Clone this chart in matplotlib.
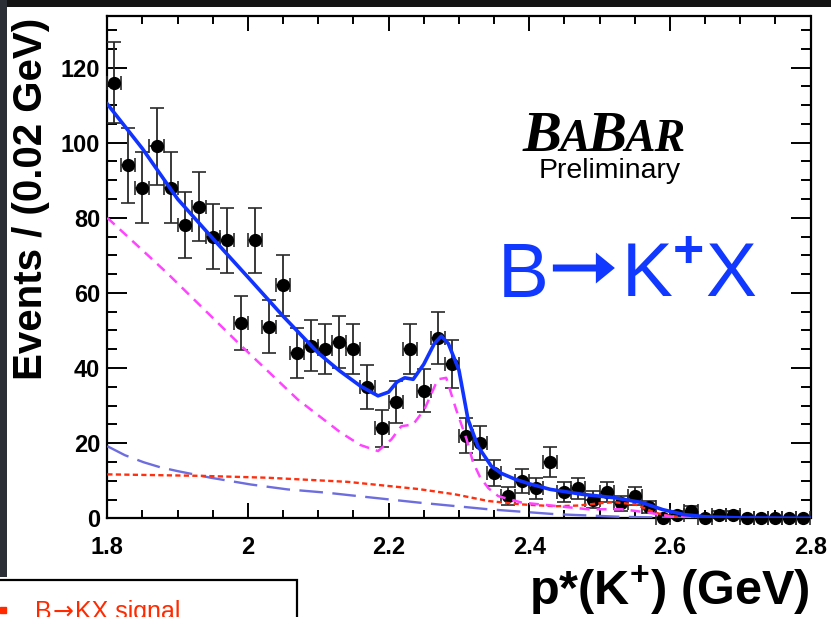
"""BaBar preliminary: p*(K+) spectrum for B -> K+ X with fit components."""

import numpy as np
import matplotlib.pyplot as plt
from matplotlib.patches import Rectangle, FancyArrow
from matplotlib.lines import Line2D
from matplotlib.transforms import IdentityTransform
from matplotlib.ticker import MultipleLocator, FuncFormatter

plt.rcParams['font.family'] = ['Liberation Sans', 'DejaVu Sans']
plt.rcParams['font.weight'] = 'bold'
plt.rcParams['mathtext.fontset'] = 'custom'
plt.rcParams['mathtext.rm'] = 'Liberation Sans'
plt.rcParams['mathtext.bf'] = 'Liberation Sans:bold'

# histogram: 50 bins of 0.02 GeV between 1.8 and 2.8
bin_edges = np.linspace(1.8, 2.8, 51)
counts = [116, 94, 88, 99, 88, 78, 83, 75, 74, 52,
          74, 51, 62, 44, 46, 45, 47, 45, 35, 24,
          31, 45, 34, 48, 41, 22, 20, 12, 6, 10,
          8, 15, 7, 8, 5, 7, 4, 6, 3, 0,
          1, 2, 0, 1, 1, 0, 0, 0, 0, 0]
errors = [10.8, 10.0, 9.4, 10.2, 9.4, 8.8, 9.1, 8.7, 8.6, 7.2,
          8.6, 7.1, 8.2, 6.6, 6.8, 6.7, 6.9, 6.7, 5.9, 4.9,
          5.6, 6.7, 5.8, 6.9, 6.4, 4.7, 4.5, 3.5, 2.4, 3.2,
          2.8, 3.9, 2.6, 2.8, 2.2, 2.6, 2.0, 2.4, 1.7, 0.0,
          1.0, 1.4, 0.0, 1.0, 1.0, 0.0, 0.0, 0.0, 0.0, 0.0]

# total fit (solid blue)
total_x = [1.80, 1.85, 1.90, 1.95, 2.00, 2.05, 2.10, 2.13, 2.16, 2.185,
           2.20, 2.212, 2.223, 2.235, 2.25, 2.265, 2.275, 2.285, 2.30, 2.313,
           2.327, 2.346, 2.36, 2.38, 2.40, 2.43, 2.475, 2.52, 2.56, 2.59,
           2.62, 2.65, 2.70, 2.80]
total_y = [110.3, 98.4, 85.0, 74.5, 64.2, 53.8, 44.0, 39.3, 35.2, 32.6,
           33.6, 36.3, 37.4, 37.0, 41.0, 46.5, 48.5, 46.5, 39.5, 26.3,
           19.2, 13.9, 12.0, 10.4, 9.2, 7.7, 6.4, 5.5, 4.2, 2.3,
           1.0, 0.4, 0.1, 0.0]

# peaking component (magenta dashed)
peak_x = [1.80, 1.885, 1.99, 2.071, 2.132, 2.16, 2.185, 2.204, 2.218, 2.235,
          2.251, 2.27, 2.282, 2.296, 2.311, 2.32, 2.33, 2.342, 2.356, 2.389,
          2.437, 2.484, 2.532, 2.57, 2.60, 2.65, 2.80]
peak_y = [80.0, 65.3, 46.0, 31.6, 22.8, 19.5, 17.9, 21.0, 24.5, 25.0,
          29.0, 37.0, 37.4, 29.0, 21.0, 15.0, 11.0, 8.0, 5.9, 4.2,
          3.3, 2.4, 2.4, 1.5, 0.5, 0.1, 0.0]

# B -> K X signal (red short dashes)
signal_x = [1.80, 1.933, 2.028, 2.142, 2.242, 2.294, 2.342, 2.389, 2.437, 2.47,
            2.50, 2.52, 2.551, 2.579, 2.60, 2.63, 2.80]
signal_y = [11.7, 11.3, 10.8, 9.7, 7.8, 6.4, 4.6, 3.7, 3.2, 3.4,
            4.0, 4.3, 3.7, 1.5, 0.6, 0.1, 0.0]

# continuum (lavender long dashes)
cont_x = [1.80, 1.825, 1.852, 1.875, 1.899, 1.947, 2.004, 2.056, 2.113, 2.147,
          2.242, 2.342, 2.437, 2.53, 2.62, 2.80]
cont_y = [19.2, 16.8, 14.9, 13.6, 12.6, 10.8, 9.0, 7.7, 6.8, 6.1,
          4.2, 2.4, 1.1, 0.4, 0.1, 0.0]

W, H = 831, 617
fig = plt.figure(figsize=(W / 100, H / 100), dpi=100)
fig.patch.set_facecolor('white')

# slide background strips around the picture
fig.add_artist(Rectangle((0, 1 - 7 / H), 1, 7 / H, transform=fig.transFigure,
                         facecolor='#141414', edgecolor='none', zorder=0))
fig.add_artist(Rectangle((0, 40 / H), 7 / W, 1, transform=fig.transFigure,
                         facecolor='#2c2f36', edgecolor='none', zorder=0))

left, right, top, bottom = 107.3, 810.5, 15.7, 518.3
ax = fig.add_axes([left / W, (H - bottom) / H, (right - left) / W, (bottom - top) / H])
ax.set_xlim(1.8, 2.8)
ax.set_ylim(0, 133.8)

centers = 0.5 * (bin_edges[:-1] + bin_edges[1:])
half_width = 0.5 * (bin_edges[1] - bin_edges[0])
eb = ax.errorbar(centers, counts, yerr=errors, xerr=half_width, fmt='o',
                 color='black', ms=8.5, ecolor='#2a2a2a', elinewidth=1.3,
                 capsize=5, capthick=1.2, zorder=3)
for art in eb.get_children():
    art.set_clip_on(False)

ax.plot(cont_x, cont_y, color='#6d6ddf', lw=1.7, dashes=(10, 4), zorder=4)
ax.plot(signal_x, signal_y, color='#ff3010', lw=1.7, dashes=(2.2, 1.4), zorder=4)
ax.plot(peak_x, peak_y, color='#ff44ff', lw=1.8, dashes=(4, 2.8), zorder=4)
ax.plot(total_x, total_y, color='#1133ff', lw=2.6, zorder=5)

ax.xaxis.set_major_locator(MultipleLocator(0.2))
ax.xaxis.set_minor_locator(MultipleLocator(0.05))
ax.yaxis.set_major_locator(MultipleLocator(20))
ax.yaxis.set_minor_locator(MultipleLocator(5))
ax.xaxis.set_major_formatter(FuncFormatter(lambda v, p: f"{v:g}"))
ax.yaxis.set_major_formatter(FuncFormatter(lambda v, p: f"{v:g}"))
ax.tick_params(which='both', direction='in', top=True, right=True, width=1.4,
               labelsize=17)
ax.tick_params(axis='x', which='major', length=11, pad=13)
ax.tick_params(axis='x', which='minor', length=5.5)
ax.tick_params(axis='y', which='major', length=14.5, pad=5)
ax.tick_params(axis='y', which='minor', length=7.2)
for sp in ax.spines.values():
    sp.set_linewidth(1.6)

fig.text(31 / W, (H - 199) / H, "Events / (0.02 GeV)", rotation=90,
         fontsize=29, weight='bold', ha='center', va='center')
fig.text(810 / W, (H - 605) / H, r"p*(K$^{\mathbf{+}}$) (GeV)", fontsize=35,
         weight='bold', ha='right', va='baseline')

fig.canvas.draw()
renderer = fig.canvas.get_renderer()


def chain_text(x_px, base_px, s, **kw):
    """Place text at pixel x (from left) / baseline (from top); return right edge."""
    t = fig.text(x_px / W, (H - base_px) / H, s, ha='left', va='baseline', **kw)
    return t.get_window_extent(renderer).x1


# BaBar logo, built piece by piece
x_px = 523
for piece, size in [("B", 42), ("A", 33), ("B", 42), ("AR", 33)]:
    x_px = chain_text(x_px, 151, piece, fontsize=size, family='Liberation Serif',
                      weight='bold', style='italic') - 2.5
fig.text(681 / W, (H - 178) / H, "Preliminary", fontsize=20.5, weight='normal',
         ha='right', va='baseline')

# B -> K+ X label with a heavy arrow
blue = '#1038ff'
x_end = chain_text(498, 297, "B", fontsize=55, weight='normal', color=blue)
fig.add_artist(FancyArrow(x_end + 4, H - 268, 62, 0, width=7, head_width=31,
                          head_length=19, length_includes_head=True,
                          transform=IdentityTransform(), color=blue, lw=0))
chain_text(x_end + 72, 297, r"K$^{\mathrm{+}}$X", fontsize=55, weight='normal',
           color=blue)

# legend box cut by the bottom edge
fig.add_artist(Rectangle((-0.01, -0.05), 0.01 + 297 / W, 0.05 + (H - 580) / H,
                         transform=fig.transFigure, facecolor='white',
                         edgecolor='black', lw=1.6, zorder=6))
fig.add_artist(Line2D([3 / W], [(H - 610) / H], marker='s', ms=4, color='#ff2a00',
                      transform=fig.transFigure, zorder=7))
red = '#ff2a00'
x_px = chain_text(35, 619, "B", fontsize=18, weight='normal', color=red, zorder=7)
x_px = chain_text(x_px + 1, 619, "→", fontsize=18, weight='normal', color=red,
                  family='DejaVu Sans', zorder=7)
chain_text(x_px + 1, 619, "KX signal", fontsize=18, weight='normal', color=red,
           zorder=7)

fig.savefig("out.png", dpi=100, facecolor=fig.get_facecolor())
